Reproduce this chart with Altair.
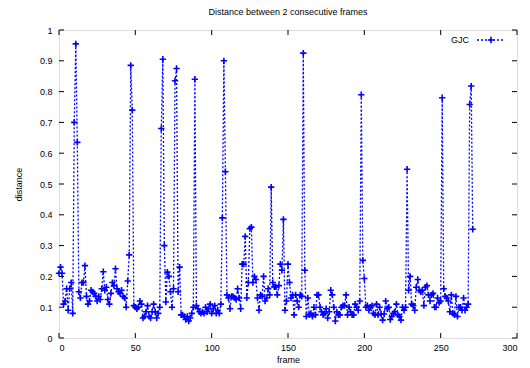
import altair as alt
import pandas as pd

# GJC distances, frames 0..271
seg_a = [0.21, 0.23, 0.21, 0.11, 0.12, 0.16, 0.09, 0.16, 0.18, 0.08, 0.70, 0.955, 0.635]
seg_b = [0.15, 0.13, 0.18, 0.18, 0.235, 0.135, 0.11, 0.12, 0.155, 0.15, 0.145, 0.135, 0.12,
         0.135, 0.125, 0.16, 0.215, 0.155, 0.165, 0.125, 0.11, 0.145, 0.18, 0.17, 0.225, 0.16,
         0.15, 0.145, 0.155, 0.135, 0.13, 0.10, 0.185, 0.27]
seg_c = [0.885, 0.74, 0.105, 0.10, 0.095, 0.10, 0.12, 0.11, 0.065, 0.07, 0.085, 0.105, 0.07,
         0.065, 0.085, 0.11, 0.085, 0.065, 0.08, 0.10]
seg_d = [0.68, 0.905, 0.30, 0.117, 0.214, 0.20, 0.15, 0.10, 0.16, 0.835, 0.875, 0.15, 0.23,
         0.075, 0.075, 0.07, 0.06, 0.07, 0.055, 0.065, 0.08, 0.10, 0.84]
seg_e = [0.105, 0.095, 0.085, 0.08, 0.085, 0.08, 0.10, 0.085, 0.095, 0.11, 0.08, 0.095, 0.105,
         0.08, 0.09, 0.08, 0.11, 0.39, 0.90, 0.54]
seg_f = [0.14, 0.13, 0.095, 0.135, 0.135, 0.13, 0.125, 0.16, 0.13, 0.095, 0.24, 0.24, 0.33,
         0.13, 0.18, 0.355, 0.36, 0.18, 0.20, 0.19, 0.13, 0.09, 0.14, 0.135, 0.20, 0.12, 0.13,
         0.16, 0.14, 0.49]
seg_g = [0.18, 0.166, 0.166, 0.14, 0.17, 0.24, 0.22, 0.385, 0.09, 0.12, 0.24, 0.18, 0.13, 0.14,
         0.075, 0.14, 0.12, 0.10, 0.14, 0.135, 0.925]
seg_h = [0.22, 0.07, 0.13, 0.075, 0.08, 0.07, 0.10, 0.075, 0.14, 0.14, 0.10, 0.085, 0.075, 0.08,
         0.095, 0.065, 0.085, 0.155, 0.14, 0.10, 0.055, 0.085, 0.075, 0.075, 0.10, 0.105, 0.105,
         0.14, 0.075, 0.10, 0.085, 0.075, 0.075, 0.11, 0.10, 0.09, 0.12, 0.79, 0.252, 0.193]
seg_i = [0.10, 0.105, 0.09, 0.10, 0.105, 0.08, 0.075, 0.11, 0.075, 0.10, 0.078, 0.058, 0.078,
         0.12, 0.095, 0.10, 0.06, 0.07, 0.08, 0.085, 0.11, 0.075, 0.07, 0.058, 0.10, 0.09, 0.10,
         0.548]
seg_j = [0.155, 0.20, 0.11, 0.105, 0.09, 0.165, 0.19, 0.155, 0.15, 0.155, 0.105, 0.165, 0.17,
         0.14, 0.12, 0.14, 0.145, 0.10, 0.10, 0.13, 0.115, 0.12, 0.78]
seg_k = [0.16, 0.135, 0.13, 0.12, 0.085, 0.14, 0.08, 0.075, 0.135, 0.07, 0.10, 0.10, 0.09, 0.13,
         0.09, 0.10, 0.11, 0.758, 0.818, 0.353]

distance = seg_a + seg_b + seg_c + seg_d + seg_e + seg_f + seg_g + seg_h + seg_i + seg_j + seg_k
frames = list(range(len(distance)))

x_ticks = [0, 50, 100, 150, 200, 250, 300]
y_ticks = [0, 0.1, 0.2, 0.3, 0.4, 0.5, 0.6, 0.7, 0.8, 0.9, 1]

W, H = 458, 308
BLUE = "#0000ff"
FONT = "Liberation Sans"

df = pd.DataFrame({"frame": frames, "distance": distance})
xt = pd.DataFrame({"frame": x_ticks})
yt = pd.DataFrame({"distance": y_ticks})

xscale = alt.Scale(domain=[0, 300], nice=False, zero=False)
yscale = alt.Scale(domain=[0, 1], nice=False, zero=False)

xaxis = alt.Axis(values=x_ticks, ticks=False, grid=False, domain=False, labelPadding=5,
                 labelFontSize=9, title="frame", titleFontSize=9, titleFontWeight="normal",
                 titlePadding=3, labelFont=FONT, titleFont=FONT, labelColor="black",
                 titleColor="black", format="d", labelOverlap=False, labelBound=False)
yaxis = alt.Axis(values=y_ticks, ticks=False, grid=False, domain=False, labelPadding=7,
                 labelFontSize=9, title="distance", titleFontSize=9, titleFontWeight="normal",
                 titlePadding=16, labelFont=FONT, titleFont=FONT, labelColor="black",
                 titleColor="black", format="~g", labelOverlap=False, labelBound=False)

base = alt.Chart(df).encode(
    x=alt.X("frame:Q", scale=xscale, axis=xaxis),
    y=alt.Y("distance:Q", scale=yscale, axis=yaxis),
)
line = base.mark_line(color=BLUE, strokeDash=[2, 2], strokeWidth=1.3)
pts = base.mark_point(shape="M-1,0L1,0M0,-1L0,1", filled=False, color=BLUE,
                      strokeWidth=1.6, size=40, opacity=1)

tick_len = 5
xt_bottom = alt.Chart(xt).mark_rule(color="black", strokeWidth=1).encode(
    x=alt.X("frame:Q", scale=xscale, axis=xaxis), y=alt.value(H), y2=alt.value(H - tick_len))
xt_top = alt.Chart(xt).mark_rule(color="black", strokeWidth=1).encode(
    x=alt.X("frame:Q", scale=xscale, axis=xaxis), y=alt.value(0), y2=alt.value(tick_len))
yt_left = alt.Chart(yt).mark_rule(color="black", strokeWidth=1).encode(
    y=alt.Y("distance:Q", scale=yscale, axis=yaxis), x=alt.value(0), x2=alt.value(tick_len))
yt_right = alt.Chart(yt).mark_rule(color="black", strokeWidth=1).encode(
    y=alt.Y("distance:Q", scale=yscale, axis=yaxis), x=alt.value(W), x2=alt.value(W - tick_len))

# legend
leg_df = pd.DataFrame({"label": ["GJC"]})
leg_text = alt.Chart(leg_df).mark_text(align="right", baseline="middle", fontSize=9,
                                       font=FONT, color="black").encode(
    text="label:N", x=alt.value(410), y=alt.value(10))
leg_line = alt.Chart(leg_df).mark_rule(color=BLUE, strokeDash=[2, 2], strokeWidth=1.3).encode(
    x=alt.value(418), x2=alt.value(446), y=alt.value(10))
leg_pt = alt.Chart(leg_df).mark_point(shape="M-1,0L1,0M0,-1L0,1", filled=False, color=BLUE,
                                      strokeWidth=1.6, size=40, opacity=1).encode(
    x=alt.value(432), y=alt.value(10))

chart = alt.layer(line, pts, xt_bottom, xt_top, yt_left, yt_right, leg_text, leg_line, leg_pt).properties(
    width=W, height=H,
    title=alt.TitleParams("Distance between 2 consecutive frames", fontSize=9,
                          fontWeight="normal", font=FONT, color="black", offset=9),
    autosize=alt.AutoSizeParams(type="none"),
    padding={"left": 51, "top": 22, "right": 5, "bottom": 30},
).configure_view(stroke="black", strokeWidth=1).configure(background="white")

chart.save("out.html", embed_options={"renderer": "svg", "actions": False})
